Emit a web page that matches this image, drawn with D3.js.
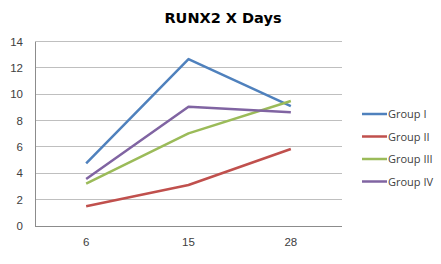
<!DOCTYPE html>
<html>
<meta charset="utf-8">
<style>
body { margin: 0; background: #fff; }
.grid line { stroke: #bfbfbf; stroke-width: 1px; shape-rendering: crispEdges; }
.axis path, .axis line { stroke: #8c8c8c; shape-rendering: crispEdges; }
.tick text { font-family: "Liberation Sans", Arial, sans-serif; font-size: 11.5px; fill: #404040; }
.legend text { font-family: "Open Sans", sans-serif; font-size: 11px; fill: #404040; }
</style>
<body>
<script src="https://d3js.org/d3.v7.min.js"></script>
<script>

var days = ["6", "15", "28"];
var groups = ["Group I", "Group II", "Group III", "Group IV"];
var groupI = [4.75, 12.67, 9.1];
var groupII = [1.5, 3.11, 5.84];
var groupIII = [3.21, 7.03, 9.48];
var groupIV = [3.57, 9.05, 8.63];
var yTicks = [0, 2, 4, 6, 8, 10, 12, 14];
var colors = ["#4f81bd", "#c0504d", "#9bbb59", "#8064a2"];

var series = [groupI, groupII, groupIII, groupIV];

var svg = d3.select("body").append("svg").attr("width", 441).attr("height", 264);

var x = d3.scaleBand().domain(days).range([35, 342]);
var y = d3.scaleLinear().domain([0, 14]).range([226, 41.5]);

svg.append("text")
	.attr("x", 223).attr("y", 22.5)
	.attr("text-anchor", "middle")
	.style("font-family", "DejaVu Sans, Verdana, sans-serif")
	.style("font-weight", "bold")
	.style("font-size", "14.5px")
	.style("fill", "#000")
	.text("RUNX2 X Days");

// gridlines
svg.append("g").attr("class", "grid")
	.selectAll("line").data(yTicks.slice(1)).enter().append("line")
	.attr("x1", 35).attr("x2", 342)
	.attr("y1", d => y(d)).attr("y2", d => y(d));

var yAxis = svg.append("g").attr("class", "axis")
	.attr("transform", "translate(35,0)")
	.call(d3.axisLeft(y).tickValues(yTicks).tickSize(0).tickPadding(12));
yAxis.select(".domain").attr("d", "M0," + y(0) + "V" + y(14));

var xAxis = svg.append("g").attr("class", "axis")
	.attr("transform", "translate(0,226)")
	.call(d3.axisBottom(x).tickSize(0).tickPadding(12));
xAxis.select(".domain").attr("d", "M35,0H342");

var line = d3.line()
	.x((d, i) => x(days[i]) + x.bandwidth() / 2)
	.y(d => y(d));

svg.selectAll(".series").data(series).enter().append("path")
	.attr("class", "series")
	.attr("d", line)
	.attr("fill", "none")
	.attr("stroke", (d, i) => colors[i])
	.attr("stroke-width", 2.5)
	.attr("stroke-linejoin", "round");

var legend = svg.append("g").attr("class", "legend")
	.selectAll("g").data(groups).enter().append("g")
	.attr("transform", (d, i) => "translate(362," + (114 + i * 22.5) + ")");
legend.append("line")
	.attr("x1", 0).attr("x2", 25)
	.attr("stroke", (d, i) => colors[i])
	.attr("stroke-width", 2.5);
legend.append("text")
	.attr("x", 26).attr("y", 4)
	.text(d => d);

</script>
</body>
</html>
